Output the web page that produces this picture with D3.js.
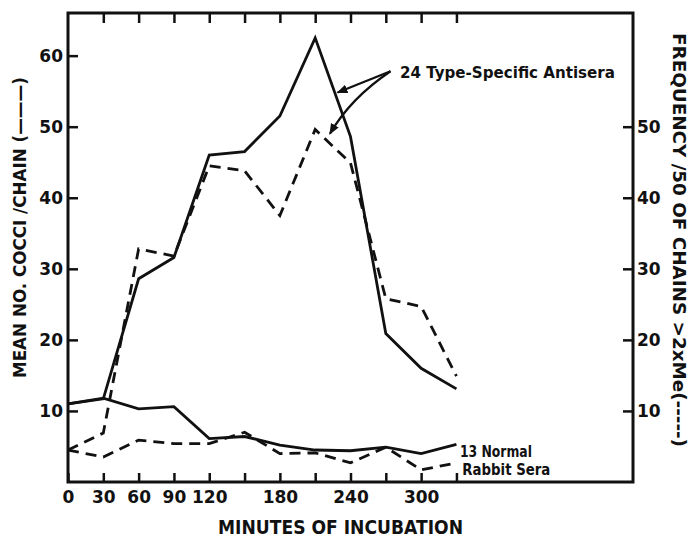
<!DOCTYPE html>
<head>
<meta charset="utf-8">
<style>
  body { margin: 0; background: #fff; }
  text { font-family: "DejaVu Sans", sans-serif; font-weight: bold; fill: #111; }
</style>
</head>
<body>
<div id="my_dataviz"></div>
<script src="https://d3js.org/d3.v7.min.js"></script>
<script>
// datos
var minutes = [0, 30, 60, 90, 120, 150, 180, 210, 240, 270, 300, 330];
var antiseraMean = [11, 11.7, 28.6, 31.6, 46, 46.5, 51.5, 62.5, 48.6, 20.9, 16, 13.1];
var antiseraFreq = [4.5, 6.9, 32.8, 31.8, 44.5, 43.8, 37.5, 49.6, 44.9, 25.8, 24.7, 14.9];
var normalMean = [11, 11.8, 10.3, 10.6, 6.1, 6.4, 5.2, 4.5, 4.4, 4.9, 4, 5.3];
var normalFreq = [4.5, 3.5, 5.9, 5.4, 5.4, 7, 4, 4.1, 2.7, 4.9, 1.7, 2.7];
var xTicks = [30, 60, 90, 120, 150, 180, 210, 240, 270, 300, 330];
var xLabels = [0, 30, 60, 90, 120, 180, 240, 300];
var leftTicks = [10, 20, 30, 40, 50, 60];
var rightTicks = [10, 20, 30, 40, 50];

var W = 691, H = 537;
var margin = {top: 13, right: 58, bottom: 55, left: 68};

var svg = d3.select("#my_dataviz")
  .append("svg")
    .attr("width", W)
    .attr("height", H);

var x = d3.scaleLinear().domain([0, 480]).range([margin.left, W - margin.right]);
var y = d3.scaleLinear().domain([0, 66]).range([H - margin.bottom, margin.top]);

// flecha
svg.append("defs").append("marker")
    .attr("id", "arrow")
    .attr("viewBox", "0 0 10 10")
    .attr("refX", 9).attr("refY", 5)
    .attr("markerWidth", 5).attr("markerHeight", 5)
    .attr("markerUnits", "strokeWidth")
    .attr("orient", "auto")
  .append("path")
    .attr("d", "M0,1 L10,5 L0,9 Z")
    .style("fill", "#111");

// marco
svg.append("rect")
    .attr("x", x(0)).attr("y", y(66))
    .attr("width", x(480) - x(0)).attr("height", y(0) - y(66))
    .style("fill", "none").style("stroke", "#111").style("stroke-width", 3);

function styleAxis(g) {
  g.select(".domain").remove();
  g.selectAll(".tick line").style("stroke", "#111").style("stroke-width", 2.5);
  g.selectAll(".tick text").style("font-size", "17px").style("fill", "#111")
    .style("font-family", "DejaVu Sans").style("font-weight", "bold");
}

// ejes
svg.append("g")
    .attr("transform", "translate(0," + y(0) + ")")
    .call(d3.axisBottom(x).tickValues(xTicks.concat([0])).tickSizeInner(-9).tickSizeOuter(0).tickPadding(9)
      .tickFormat(function(d) { return xLabels.indexOf(d) >= 0 ? d : ""; }))
    .call(styleAxis);

svg.append("g")
    .attr("transform", "translate(0," + y(66) + ")")
    .call(d3.axisTop(x).tickValues(xTicks).tickSizeInner(-10).tickSizeOuter(0).tickFormat(""))
    .call(styleAxis);

svg.append("g")
    .attr("transform", "translate(" + x(0) + ",0)")
    .call(d3.axisLeft(y).tickValues(leftTicks).tickSizeInner(-10).tickSizeOuter(0).tickPadding(5))
    .call(styleAxis);

svg.append("g")
    .attr("transform", "translate(" + x(480) + ",0)")
    .call(d3.axisRight(y).tickValues(rightTicks).tickSizeInner(-10).tickSizeOuter(0).tickPadding(4))
    .call(styleAxis);

// lineas
var series = [
  {values: antiseraMean, dash: null},
  {values: antiseraFreq, dash: "11,7"},
  {values: normalMean, dash: null},
  {values: normalFreq, dash: "11,7"}
];
var line = d3.line()
  .x(function(d, i) { return x(minutes[i]); })
  .y(function(d) { return y(d); });

svg.append("g").selectAll("path")
  .data(series)
  .enter()
  .append("path")
    .attr("d", function(d) { return line(d.values); })
    .style("fill", "none")
    .style("stroke", "#111")
    .style("stroke-width", 2.8)
    .style("stroke-linejoin", "miter")
    .style("stroke-dasharray", function(d) { return d.dash; });

// anotaciones
svg.append("text")
    .attr("x", x(282)).attr("y", y(57.7))
    .attr("dy", "0.36em")
    .style("font-size", "16px")
    .attr("textLength", 215).attr("lengthAdjust", "spacingAndGlyphs")
    .text("24 Type-Specific Antisera");

svg.append("line")
    .attr("x1", x(274)).attr("y1", y(57.8))
    .attr("x2", x(229)).attr("y2", y(54.8))
    .style("stroke", "#111").style("stroke-width", 2.2)
    .attr("marker-end", "url(#arrow)");

svg.append("path")
    .attr("d", "M" + x(274) + "," + y(57.8) + " Q" + x(240) + "," + y(54) + " " + x(222.5) + "," + y(49))
    .style("fill", "none").style("stroke", "#111").style("stroke-width", 2.2)
    .attr("marker-end", "url(#arrow)");

svg.append("text")
    .attr("x", x(333)).attr("y", y(4.3))
    .attr("dy", "0.36em")
    .style("font-size", "16px")
    .attr("textLength", 72).attr("lengthAdjust", "spacingAndGlyphs")
    .text("13 Normal");
svg.append("text")
    .attr("x", x(335)).attr("y", y(1.8))
    .attr("dy", "0.36em")
    .style("font-size", "16px")
    .attr("textLength", 88).attr("lengthAdjust", "spacingAndGlyphs")
    .text("Rabbit Sera");

// titulos
svg.append("text")
    .attr("x", 218).attr("y", 527)
    .attr("dy", "0.36em")
    .style("font-size", "19px")
    .attr("textLength", 245).attr("lengthAdjust", "spacingAndGlyphs")
    .text("MINUTES OF INCUBATION");

svg.append("text")
    .attr("transform", "translate(20,378) rotate(-90)")
    .attr("dy", "0.36em")
    .style("font-size", "18px")
    .attr("textLength", 301).attr("lengthAdjust", "spacingAndGlyphs")
    .text("MEAN NO. COCCI /CHAIN (———)");

svg.append("text")
    .attr("transform", "translate(679,33) rotate(90)")
    .attr("dy", "0.36em")
    .style("font-size", "17px")
    .attr("textLength", 414).attr("lengthAdjust", "spacingAndGlyphs")
    .text("FREQUENCY /50 OF CHAINS >2xMe(-----)");
</script>
</body>
